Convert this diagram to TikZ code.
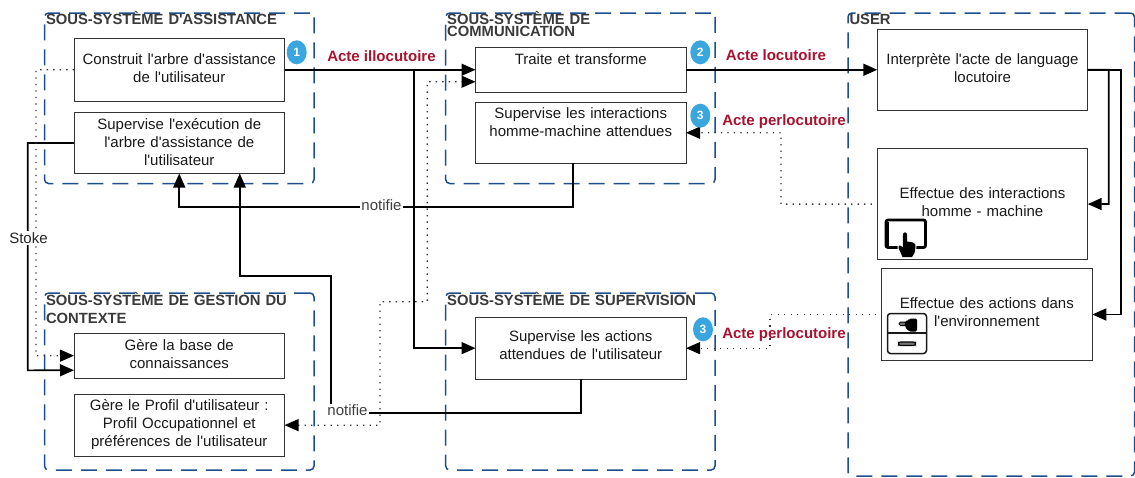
\documentclass[tikz,border=0pt]{standalone}
\usepackage{fontspec}
\setmainfont{Liberation Sans}[Ligatures=TeXOff]
\usetikzlibrary{arrows.meta,shapes.geometric}
\definecolor{grpblue}{HTML}{1F4E8C}
\definecolor{actred}{HTML}{A6122F}
\definecolor{badgeblue}{HTML}{3AA6E0}
\definecolor{titlegray}{HTML}{3A3A3A}
\tikzset{
  grp/.style={draw=grpblue,line width=1.5pt,rounded corners=4pt,dash pattern=on 16pt off 9pt,
    anchor=north west,inner xsep=1.5pt,inner ysep=0pt,outer sep=0pt,align=left,text=titlegray,
    font=\fontsize{14.8}{18}\selectfont\bfseries},
  bx/.style={draw=black!80,line width=1pt,anchor=north west,inner sep=0pt,outer sep=0pt,align=center,
    text=black!90,font=\fontsize{15}{18}\selectfont},
  headtip/.tip={Triangle[length=14pt,width=12pt,black]},
  flowline/.style={draw=black,line width=1.6pt},
  flow/.style={flowline,-headtip},
  dotline/.style={draw=black!80,line width=1.3pt,dash pattern=on 1.3pt off 5.2pt},
  dotflow/.style={dotline,-headtip},
  badge/.style={ellipse,fill=badgeblue,minimum width=20pt,minimum height=24pt,inner sep=0pt,text=white,
    font=\fontsize{12}{12}\selectfont\bfseries},
  act/.style={text=actred,inner sep=0pt,font=\fontsize{15}{18}\selectfont\bfseries},
  lbl/.style={fill=white,inner xsep=1pt,inner ysep=1pt,text=black!75,font=\fontsize{15}{18}\selectfont},
}
\begin{document}
\begin{tikzpicture}[x=1pt,y=-1pt]
\useasboundingbox (0,0) rectangle (1135,477);
% groups
\node[grp,text width=266.5pt,text height=11.3pt,text depth=159.2pt] (g1) at (44.5,13) {SOUS-SYSTÈME D'ASSISTANCE};
\node[grp,text width=266.5pt,text height=12pt,text depth=165pt] (g2) at (44.5,293) {SOUS-SYSTÈME DE GESTION DU\\CONTEXTE};
\node[grp,text width=266.3pt,text height=11.3pt,text depth=159.2pt,
  font=\fontsize{14.8}{12}\selectfont\bfseries] (g3) at (445.7,13) {SOUS-SYSTÈME DE\\COMMUNICATION};
\node[grp,text width=266.3pt,text height=12pt,text depth=165pt] (g4) at (445.7,293) {SOUS-SYSTÈME DE SUPERVISION};
\node[grp,text width=283.5pt,text height=11.3pt,text depth=451.7pt] (g5) at (848,13) {USER};
% boxes
\node[bx,text width=210.5pt,text height=26pt,text depth=36.5pt] (a1) at (74,38.5) {Construit l'arbre d'assistance\\de l'utilisateur};
\node[bx,text width=210.5pt,text height=17pt,text depth=44pt] (a2) at (74,112.5) {Supervise l'exécution de\\l'arbre d'assistance de\\l'utilisateur};
\node[bx,text width=210.5pt,text height=17.4pt,text depth=27.3pt] (b1) at (74,333.3) {Gère la base de\\connaissances};
\node[bx,text width=210.5pt,text height=16.4pt,text depth=45.3pt] (b2) at (74,394.3) {Gère le Profil d'utilisateur :\\Profil Occupationnel et\\préférences de l'utilisateur};
\node[bx,text width=210.5pt,text height=16.5pt,text depth=28pt] (c1) at (475.5,47.5) {Traite et transforme};
\node[bx,text width=210.5pt,text height=15.8pt,text depth=44.7pt] (c2) at (475.5,102.5) {Supervise les interactions\\homme-machine attendues};
\node[bx,text width=210.5pt,text height=24.7pt,text depth=37.6pt] (s1) at (475.5,317) {Supervise les actions\\attendues de l'utilisateur};
\node[bx,text width=210.4pt,text height=35pt,text depth=46.5pt] (u1) at (877.3,29) {Interprète l'acte de language\\locutoire};
\node[bx,text width=210.4pt,text height=49.8pt,text depth=61.4pt] (u2) at (877.3,148.5) {Effectue des interactions\\homme - machine};
\node[bx,text width=211pt,text height=40pt,text depth=52.4pt] (u3) at (881.3,268.3) {Effectue des actions dans\\l'environnement};
% helper points
\coordinate (brs) at (413.7,69.75);
% solid connectors
\draw[flow] (a1.east) -- (c1.west);
\draw[flow] (brs) |- (s1.west);
\draw[flow] (c1.east) -- (u1.west);
\draw[flow] (u1.east) -| (1108.7,204) -- (u2.east);
\draw[flow] (u1.east) -| (1121,314.5) -- (u3.east);
\draw[flow] ([xshift=-7.5pt]c2.south) |- (179.25,207) -- (a2.south);
\draw[flow] (s1.south) |- (331,412.7) -- (331,275.7) -| ([xshift=60.5pt]a2.south);
\draw[flow] (a2.west) -| (27.7,370.3) -- ([yshift=-14.6pt]b1.west);
% dotted connectors
\draw[dotflow] (a1.west) -| (36,355.7) -- (b1.west);
\draw[dotline,headtip-headtip] (b2.east) -| (380,301.7) -| (427.3,81.7) -- ([yshift=-12pt]c1.west);
\draw[dotflow,shorten <=5.5pt] (u2.west) -| (781,132.7) -- (c2.east);
\draw[dotflow,shorten <=5pt] (u3.west) -| (770,348.15) -- (s1.east);
% badges
\node[badge] (n1) at (296.7,52.3) {1};
\node[badge] (n2) at (700.3,52.3) {2};
\node[badge] (n3) at (700.3,115.7) {3};
\node[badge] (n4) at (703,329.3) {3};
% connector labels
\node[act] (l1) at (381.5,56) {Acte illocutoire};
\node[act] (l2) at (776,55.5) {Acte locutoire};
\node[act] (l3) at (784,121.3) {Acte perlocutoire};
\node[act] (l4) at (784,335) {Acte perlocutoire};
\node[lbl] (l5) at (381.5,205) {notifie};
\node[lbl] (l6) at (347.5,410.5) {notifie};
\node[lbl,text=black!85] (l7) at (28.5,238) {Stoke};
% tablet icon
\draw[black,line width=2.8pt,rounded corners=2pt] (886,220) rectangle (925.5,247.5);
\draw[black,line width=4pt] (886.5,222) -- (886.5,246);
\draw[white,line width=2pt,fill=black,line join=round] (902.8,235) .. controls (902.8,231.5) and (907.2,231.5) .. (907.2,235) -- (907.2,241.5) -- (913,242.5) .. controls (915.5,243) and (915.5,245) .. (915.5,247) -- (914.5,253) -- (912,257) -- (902.5,257) -- (898.5,248) .. controls (898,245) and (900,244.5) .. (902.8,247.5) -- cycle;
\fill[black] (902.8,235) .. controls (902.8,231.5) and (907.2,231.5) .. (907.2,235) -- (907.2,241.5) -- (913,242.5) .. controls (915.5,243) and (915.5,245) .. (915.5,247) -- (914.5,253) -- (912,257) -- (902.5,257) -- (898.5,248) .. controls (898,245) and (900,244.5) .. (902.8,247.5) -- cycle;
% drawer icon
\draw[black!90,line width=1.5pt,rounded corners=3pt] (887.5,313.5) rectangle (926.5,353.5);
\draw[black!90,line width=1.5pt] (887.5,333) -- (926.5,333);
\draw[black,fill=black!55,line width=1.1pt,rounded corners=2pt] (898.5,342) rectangle (915.5,345.5);
\draw[black,fill=black!55,line width=1pt,rounded corners=1.5pt] (899,322) rectangle (906,325.5);
\fill[black,rounded corners=1.5pt] (905,320.5) -- (909,320.5) -- (909,318.5) -- (917,318.5) -- (917,331.5) -- (909,331.5) -- (905,327) -- cycle;
\end{tikzpicture}
\end{document}
